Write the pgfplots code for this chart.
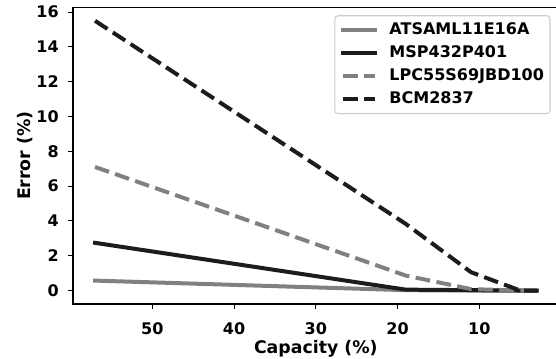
\documentclass[border=0pt]{standalone}
\usepackage{pgfplots}
\pgfplotsset{compat=1.18}
\usepackage{fontspec}
\setmainfont{DejaVu Sans}
\definecolor{mgray}{HTML}{808080}
\definecolor{mblack}{HTML}{1C1C1C}
\begin{document}
\begin{tikzpicture}
\begin{axis}[
  scale only axis, width=364.2pt, height=222.5pt,
  at={(0,0)}, anchor=south west,
  x dir=reverse, xmin=0.3, xmax=59.7, ymin=-0.775, ymax=16.275,
  xtick={10,20,30,40,50}, ytick={0,2,4,6,8,10,12,14,16},
  tick align=outside, major tick length=3.5pt,
  xtick pos=bottom, ytick pos=left,
  axis line style={line width=0.8pt, black},
  every tick/.style={black, line width=0.8pt},
  /pgf/number format/assume math mode=true,
  ticklabel style={font=\bfseries\fontsize{12}{14}\selectfont, inner sep=0pt},
  xticklabel style={anchor=base, yshift=-19.6pt},
  yticklabel style={anchor=east, xshift=-7pt},
  xlabel={Capacity (\%)}, ylabel={Error (\%)},
  label style={font=\bfseries\fontsize{13}{15}\selectfont, inner sep=0pt},
  xlabel style={at={(axis description cs:0.5,-0.167)}, anchor=base},
  ylabel style={at={(axis description cs:-0.0824,0.5)}, anchor=south},
  legend cell align=left,
  legend style={at={(axis description cs:0.9823,0.9717)}, anchor=north east,
    draw=black!20, line width=0.8pt, rounded corners=2.4pt, fill=white, fill opacity=0.8, text opacity=1, draw opacity=1,
    font=\bfseries\fontsize{12}{14}\selectfont, outer sep=0pt,
    inner xsep=4.5pt, inner ysep=5pt, row sep=6pt,
    nodes={inner sep=0pt, text height=8.75pt, text depth=2.6pt},
    /tikz/every odd column/.append style={column sep=9.5pt}},
  legend image code/.code={\draw[#1] (0pt,0pt) -- (24pt,0pt);},
  solidline/.style={line width=3pt, line cap=rect, line join=round},
  dashline/.style={line width=3pt, line cap=butt, line join=round, dash pattern=on 11.1pt off 4.8pt},
]
\addplot[solidline, mgray] coordinates {(57,0.57) (19,0.02) (11,0) (5,0) (3,0)};
\addlegendentry{ATSAML11E16A}
\addplot[solidline, mblack] coordinates {(57,2.74) (19,0.05) (11,0.02) (5,0) (3,0)};
\addlegendentry{MSP432P401}
\addplot[dashline, mgray] coordinates {(57,7.1) (19,0.86) (11,0.08) (5,0) (3,0)};
\addlegendentry{LPC55S69JBD100}
\addplot[dashline, mblack] coordinates {(57,15.5) (19,3.83) (11,1.05) (5,0) (3,0)};
\addlegendentry{BCM2837}
\end{axis}
\pgfresetboundingbox
\path (-54.75pt,-40.5pt) rectangle (362.25pt,228pt);
\end{tikzpicture}
\end{document}
